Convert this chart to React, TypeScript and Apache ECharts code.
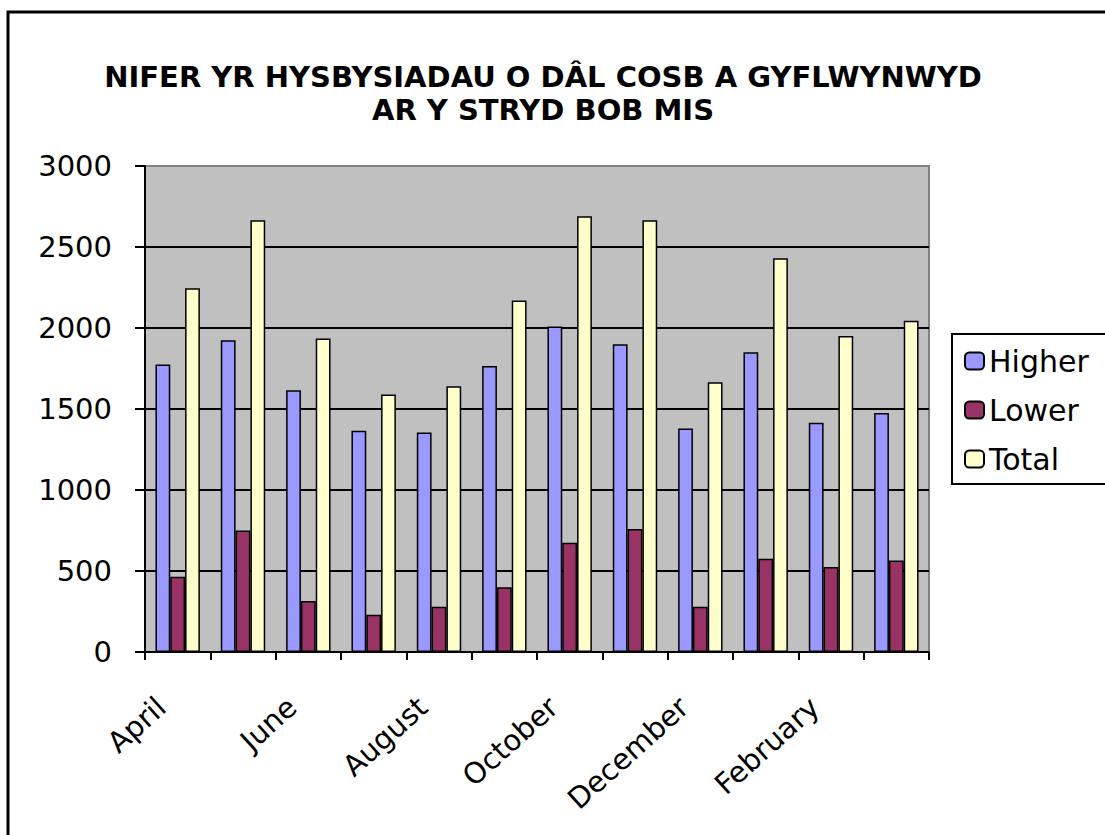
import React, { useEffect, useRef } from "react";
import * as echarts from "echarts";

const months = ["April", "May", "June", "July", "August", "September", "October", "November", "December", "January", "February", "March"];
const higher = [1775, 1925, 1615, 1365, 1355, 1765, 2010, 1900, 1380, 1850, 1415, 1475];
const lower = [465, 750, 315, 230, 280, 400, 675, 760, 280, 575, 525, 565];
const total = [2245, 2665, 1935, 1590, 1640, 2170, 2690, 2665, 1665, 2430, 1950, 2045];
const seriesNames = ["Higher", "Lower", "Total"];
const seriesColors = ["#9999ff", "#993366", "#ffffcc"];
const titleText = "NIFER YR HYSBYSIADAU O DÂL COSB A GYFLWYNWYD\nAR Y STRYD BOB MIS";

const FONT = "DejaVu Sans";

export default function App() {
  const ref = useRef<HTMLDivElement>(null);
  useEffect(() => {
    document.body.style.margin = "0";
    const chart = echarts.init(ref.current!, null, { renderer: "svg" });
    const data = [higher, lower, total];
    chart.setOption({
      animation: false,
      backgroundColor: "#ffffff",
      title: {
        text: titleText,
        left: 538,
        top: 55,
        textAlign: "center",
        textStyle: {
          fontFamily: FONT,
          fontSize: 29,
          fontWeight: "bold",
          lineHeight: 33,
          color: "#000",
        },
      },
      graphic: [
        {
          type: "rect",
          shape: { x: 8, y: 12, width: 1120, height: 840 },
          style: { fill: "none", stroke: "#000", lineWidth: 3 },
          silent: true,
        },
      ],
      legend: {
        orient: "vertical",
        left: 952,
        top: 334,
        padding: [12, 20, 10, 12],
        itemWidth: 19,
        itemHeight: 17,
        itemGap: 19,
        borderColor: "#000",
        borderWidth: 2,
        backgroundColor: "#fff",
        data: seriesNames,
        textStyle: { fontFamily: FONT, fontSize: 30, color: "#000", lineHeight: 30 },
      },
      grid: {
        left: 145,
        top: 166,
        right: 176,
        bottom: 183,
        show: true,
        backgroundColor: "#c0c0c0",
        borderColor: "#808080",
        borderWidth: 2,
      },
      xAxis: {
        type: "category",
        data: months,
        boundaryGap: true,
        axisLine: { show: true, lineStyle: { color: "#000", width: 2 } },
        axisTick: { show: true, interval: 0, length: 8, lineStyle: { color: "#000", width: 2 } },
        axisLabel: {
          interval: 1,
          rotate: 42,
          margin: 36,
          padding: [0, 22, 0, 0],
          fontFamily: FONT,
          fontSize: 29,
          color: "#000",
        },
      },
      yAxis: {
        type: "value",
        min: 0,
        max: 3000,
        interval: 500,
        axisLine: { show: true, lineStyle: { color: "#000", width: 2 } },
        axisTick: { show: true, length: 10, lineStyle: { color: "#000", width: 2 } },
        axisLabel: {
          margin: 33,
          fontFamily: FONT,
          fontSize: 29,
          color: "#000",
          formatter: (v: number) => String(v),
        },
        splitLine: { show: true, showMaxLine: false, lineStyle: { color: "#000", width: 2 } },
      },
      series: seriesNames.map((name, i) => ({
        name,
        type: "bar",
        data: data[i],
        barGap: "0%",
        barCategoryGap: "32%",
        itemStyle: { color: seriesColors[i], borderColor: "#000", borderWidth: 1.5 },
      })),
    });
    return () => chart.dispose();
  }, []);
  return <div ref={ref} style={{ width: 1105, height: 835 }} />;
}
